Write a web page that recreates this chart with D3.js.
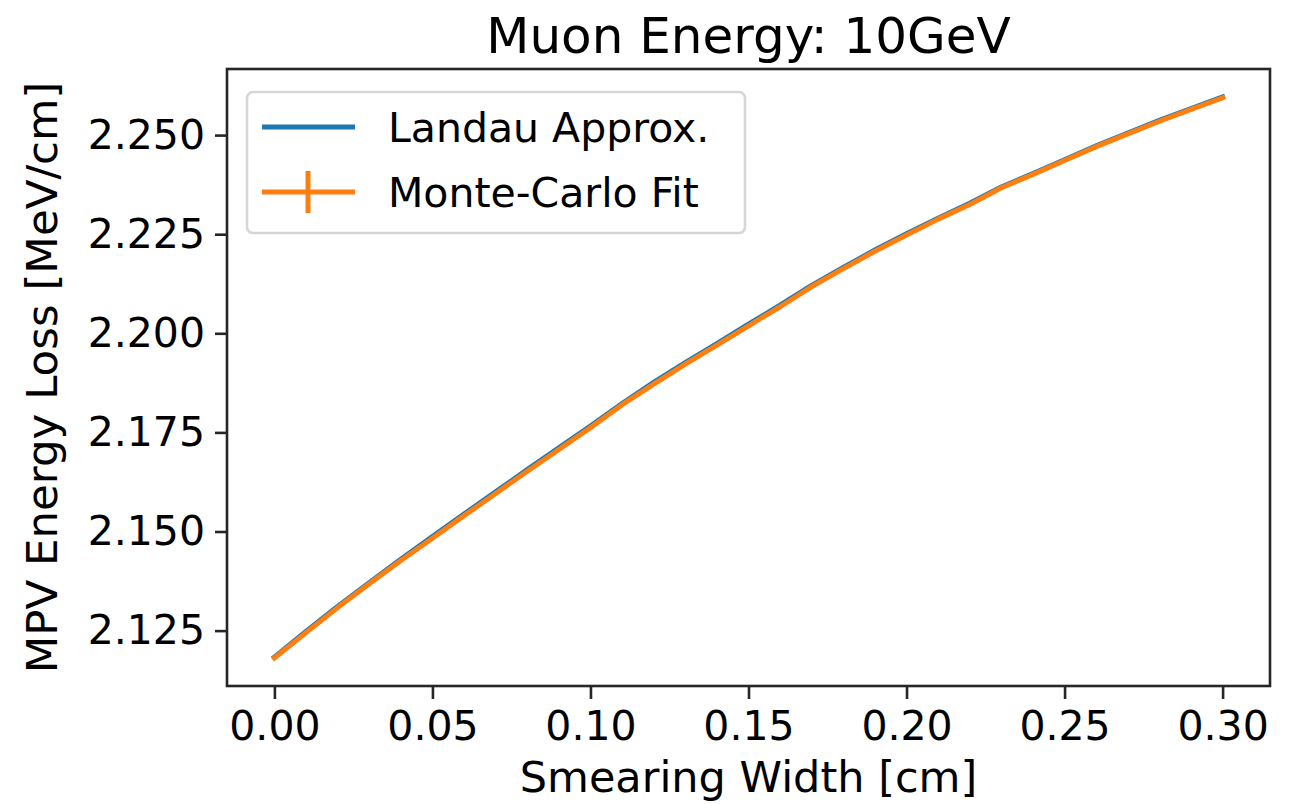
<!DOCTYPE html>
<html>
<head>
<meta charset="utf-8">
<script src="https://cdn.jsdelivr.net/npm/d3@7"></script>
<style>
  html, body { margin: 0; padding: 0; background: #fff; }
  svg { display: block; }
  text { font-family: "DejaVu Sans", sans-serif; fill: #000; }
</style>
</head>
<body>
<svg id="chart" width="1291" height="804"></svg>
<script>
// Smearing width samples [cm]
const smearing = [0.00, 0.01, 0.02, 0.03, 0.04, 0.05, 0.06, 0.07, 0.08, 0.09,
                  0.10, 0.11, 0.12, 0.13, 0.14, 0.15, 0.16, 0.17, 0.18, 0.19,
                  0.20, 0.21, 0.22, 0.23, 0.24, 0.25, 0.26, 0.27, 0.28, 0.29, 0.30];

// Most probable energy loss from the Landau approximation [MeV/cm]
const landauMPV = [2.1183, 2.1248, 2.1311, 2.1371, 2.1430, 2.1487, 2.1544, 2.1600, 2.1656, 2.1711,
                   2.1766, 2.1823, 2.1876, 2.1926, 2.1974, 2.2023, 2.2071, 2.2121, 2.2166, 2.2210,
                   2.2251, 2.2290, 2.2328, 2.2369, 2.2403, 2.2438, 2.2473, 2.2505, 2.2537, 2.2567, 2.2596];

// Most probable energy loss from Monte-Carlo fits [MeV/cm], with fit uncertainties
const mcMPV = [2.1181, 2.1245, 2.1308, 2.1368, 2.1427, 2.1483, 2.1540, 2.1596, 2.1652, 2.1707,
               2.1762, 2.1820, 2.1872, 2.1922, 2.1970, 2.2019, 2.2067, 2.2118, 2.2163, 2.2207,
               2.2248, 2.2288, 2.2325, 2.2367, 2.2401, 2.2436, 2.2471, 2.2503, 2.2535, 2.2565, 2.2594];
const mcErr = [0.0003, 0.0003, 0.0003, 0.0003, 0.0003, 0.0003, 0.0003, 0.0003, 0.0003, 0.0003,
               0.0003, 0.0003, 0.0003, 0.0003, 0.0003, 0.0003, 0.0003, 0.0003, 0.0003, 0.0003,
               0.0003, 0.0003, 0.0003, 0.0003, 0.0003, 0.0003, 0.0003, 0.0003, 0.0003, 0.0003, 0.0003];

const xTicks = [0.00, 0.05, 0.10, 0.15, 0.20, 0.25, 0.30];
const yTicks = [2.125, 2.150, 2.175, 2.200, 2.225, 2.250];

const titleText = "Muon Energy: 10GeV";
const xLabel = "Smearing Width [cm]";
const yLabel = "MPV Energy Loss [MeV/cm]";
const seriesNames = ["Landau Approx.", "Monte-Carlo Fit"];

const blue = "#1f77b4", orange = "#ff7f0e", frame = "#262626";

// Plot area
const plotLeft = 227, plotRight = 1270, plotTop = 69, plotBottom = 686;

const svg = d3.select("#chart");

// 5% padding around the data range on both axes
function padded(lo, hi) {
  const m = (hi - lo) * 0.05;
  return [lo - m, hi + m];
}
const xExt = d3.extent(smearing);
const yExt = d3.extent(landauMPV.concat(mcMPV));
const x = d3.scaleLinear().domain(padded(xExt[0], xExt[1])).range([plotLeft, plotRight]);
const y = d3.scaleLinear().domain(padded(yExt[0], yExt[1])).range([plotBottom, plotTop]);

// Axes
const xAxis = d3.axisBottom(x).tickValues(xTicks).tickFormat(d3.format(".2f"))
  .tickSize(13).tickPadding(12);
const yAxis = d3.axisLeft(y).tickValues(yTicks).tickFormat(d3.format(".3f"))
  .tickSize(12).tickPadding(10);

const gx = svg.append("g").attr("transform", `translate(0,${plotBottom})`).call(xAxis);
const gy = svg.append("g").attr("transform", `translate(${plotLeft},0)`).call(yAxis);
[gx, gy].forEach(g => {
  g.select(".domain").remove();
  g.selectAll(".tick line").attr("stroke", frame).attr("stroke-width", 2.6);
  g.selectAll(".tick text").style("font-family", "DejaVu Sans").style("font-size", "41px").attr("fill", "#000");
});

// Data lines
const line = (ys) => d3.line().x((d, i) => x(smearing[i])).y((d, i) => y(ys[i]))(ys);

svg.append("path").attr("d", line(landauMPV))
  .attr("fill", "none").attr("stroke", blue).attr("stroke-width", 5)
  .attr("stroke-linejoin", "round").attr("stroke-linecap", "square");

svg.append("g").selectAll("line").data(mcMPV).join("line")
  .attr("x1", (d, i) => x(smearing[i])).attr("x2", (d, i) => x(smearing[i]))
  .attr("y1", (d, i) => y(d - mcErr[i])).attr("y2", (d, i) => y(d + mcErr[i]))
  .attr("stroke", orange).attr("stroke-width", 5);

svg.append("path").attr("d", line(mcMPV))
  .attr("fill", "none").attr("stroke", orange).attr("stroke-width", 5)
  .attr("stroke-linejoin", "round").attr("stroke-linecap", "square");

// Frame
svg.append("rect").attr("x", plotLeft).attr("y", plotTop)
  .attr("width", plotRight - plotLeft).attr("height", plotBottom - plotTop)
  .attr("fill", "none").attr("stroke", frame).attr("stroke-width", 2.6);

// Legend
const lg = svg.append("g");
lg.append("rect").attr("x", 247).attr("y", 92).attr("width", 498).attr("height", 141)
  .attr("rx", 6).attr("fill", "#fff").attr("fill-opacity", 0.8)
  .attr("stroke", "#d6d6d6").attr("stroke-width", 2.6);
const rows = [127, 192];
lg.append("line").attr("x1", 262).attr("x2", 355).attr("y1", rows[0]).attr("y2", rows[0])
  .attr("stroke", blue).attr("stroke-width", 5);
lg.append("line").attr("x1", 262).attr("x2", 355).attr("y1", rows[1]).attr("y2", rows[1])
  .attr("stroke", orange).attr("stroke-width", 5);
lg.append("line").attr("x1", 308).attr("x2", 308).attr("y1", rows[1] - 21).attr("y2", rows[1] + 21)
  .attr("stroke", orange).attr("stroke-width", 5);
lg.selectAll("text.lab").data(seriesNames).join("text").attr("class", "lab")
  .attr("x", 388).attr("y", (d, i) => rows[i] + 15)
  .style("font-size", "41px").text(d => d);

// Title and axis labels
svg.append("text").attr("x", (plotLeft + plotRight) / 2).attr("y", 53)
  .attr("text-anchor", "middle").style("font-size", "50px").text(titleText);
svg.append("text").attr("x", (plotLeft + plotRight) / 2).attr("y", 792)
  .attr("text-anchor", "middle").style("font-size", "43px").text(xLabel);
svg.append("text").attr("transform", `translate(57,${(plotTop + plotBottom) / 2}) rotate(-90)`)
  .attr("text-anchor", "middle").style("font-size", "43.5px").text(yLabel);
</script>
</body>
</html>
